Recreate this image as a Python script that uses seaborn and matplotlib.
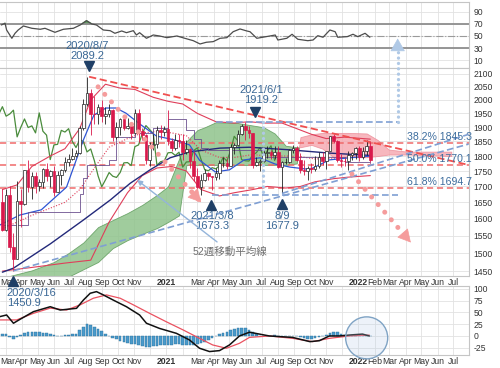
import numpy as np
import pandas as pd
import matplotlib
matplotlib.use('Agg')
import matplotlib.pyplot as plt
import matplotlib.dates as mdates
from matplotlib.patches import Ellipse
from matplotlib.ticker import NullLocator, NullFormatter
import seaborn as sns

sns.set_theme(style='white')
plt.rcParams['font.family'] = ['Liberation Sans', 'Noto Sans CJK JP', 'DejaVu Sans']

# ---------------- weekly candles (gold) ----------------
week_start = '2020-02-24'
opens = [1650, 1566, 1673, 1516, 1484, 1654, 1646, 1752, 1698, 1735, 1700, 1714, 1756, 1735, 1751, 1683, 1737, 1753, 1780, 1790,
         1801, 1810, 1897, 1986, 2028, 1949, 1947, 1975, 1940, 1948, 1962, 1866, 1900, 1930, 1899, 1905, 1880, 1952, 1886, 1872,
         1788, 1838, 1840, 1889, 1883, 1895, 1850, 1829, 1856, 1850, 1814, 1824, 1784, 1734, 1699, 1721, 1745, 1733, 1729, 1745,
         1777, 1778, 1768, 1832, 1838, 1877, 1906, 1892, 1878, 1769, 1781, 1784, 1811, 1812, 1802, 1813, 1763, 1780, 1781, 1819,
         1828, 1788, 1754, 1751, 1761, 1757, 1768, 1796, 1783, 1818, 1868, 1852, 1788, 1784, 1783, 1804, 1811, 1829, 1797, 1818,
         1835]
highs = [1691, 1692, 1703, 1558, 1716, 1693, 1753, 1788, 1747, 1747, 1725, 1760, 1775, 1752, 1765, 1749, 1757, 1796, 1807, 1826,
         1820, 1904, 2005, 2089.2, 2040, 2015, 1986, 2000, 1975, 1985, 1965, 1920, 1933, 1937, 1933, 1916, 1966, 1965, 1899, 1875,
         1847, 1875, 1905, 1907, 1904, 1962, 1863, 1877, 1875, 1875, 1855, 1826, 1816, 1760, 1740, 1756, 1748, 1735, 1759, 1785,
         1798, 1790, 1842, 1846, 1890, 1913, 1919.2, 1903, 1880, 1796, 1791, 1818, 1834, 1822, 1835, 1834, 1782, 1795, 1823, 1836,
         1834, 1809, 1788, 1765, 1775, 1800, 1814, 1815, 1818, 1870, 1877, 1854, 1807, 1795, 1816, 1815, 1831, 1833, 1830, 1854,
         1853]
lows = [1563, 1563, 1504, 1450.9, 1484, 1576, 1643, 1681, 1659, 1680, 1687, 1694, 1718, 1698, 1671, 1681, 1704, 1748, 1766, 1785,
        1797, 1807, 1890, 1976, 1874, 1911, 1911, 1918, 1913, 1936, 1851, 1860, 1873, 1890, 1894, 1860, 1876, 1848, 1855, 1774,
        1767, 1820, 1827, 1859, 1870, 1836, 1817, 1820, 1832, 1785, 1808, 1760, 1717, 1687, 1673.3, 1718, 1721, 1690, 1721, 1723,
        1763, 1756, 1768, 1808, 1838, 1872, 1855, 1862, 1761, 1765, 1751, 1780, 1794, 1790, 1790, 1759, 1677.9, 1772, 1778, 1809,
        1782, 1745, 1738, 1721, 1745, 1750, 1760, 1770, 1758, 1817, 1845, 1780, 1762, 1767, 1753, 1785, 1790, 1782, 1790, 1805,
        1780]
closes = [1566, 1673, 1516, 1484, 1654, 1646, 1752, 1698, 1735, 1700, 1714, 1756, 1735, 1751, 1683, 1737, 1753, 1780, 1790, 1801,
          1810, 1897, 1986, 2028, 1949, 1947, 1975, 1940, 1948, 1962, 1866, 1900, 1930, 1899, 1905, 1880, 1952, 1886, 1872, 1788,
          1838, 1840, 1889, 1883, 1895, 1850, 1829, 1856, 1850, 1814, 1824, 1784, 1734, 1699, 1721, 1745, 1733, 1729, 1745, 1777,
          1778, 1768, 1832, 1838, 1877, 1906, 1892, 1878, 1769, 1781, 1784, 1811, 1812, 1802, 1813, 1763, 1780, 1781, 1819, 1828,
          1788, 1754, 1751, 1761, 1757, 1768, 1796, 1783, 1818, 1868, 1852, 1788, 1784, 1783, 1804, 1811, 1829, 1797, 1818, 1835,
          1785]

# ---------------- ichimoku cloud (leading spans) ----------------
cloud_dates = ['2020-02-19', '2020-04-20', '2020-06-01', '2020-06-29', '2020-07-27', '2020-08-24', '2020-09-21', '2020-10-19',
               '2020-11-16', '2020-12-14', '2021-01-04', '2021-01-25', '2021-02-08', '2021-03-01', '2021-03-15', '2021-04-05',
               '2021-05-17', '2021-07-05', '2021-07-26', '2021-08-16', '2021-09-06', '2021-09-13', '2021-10-04', '2021-10-25',
               '2021-11-15', '2021-12-13', '2022-01-17', '2022-02-07', '2022-02-28', '2022-04-04', '2022-05-09', '2022-06-27']
span_a = [1430, 1452, 1475, 1500, 1530, 1575, 1596, 1617, 1642, 1673, 1700, 1790, 1850, 1890, 1900, 1918, 1915, 1900, 1878, 1835,
          1830, 1830, 1838, 1825, 1796, 1796, 1796, 1800, 1805, 1805, 1803, 1800]
span_b = [1400, 1420, 1425, 1435, 1455, 1475, 1514, 1537, 1555, 1572, 1590, 1610, 1770, 1770, 1770, 1770, 1770, 1770, 1770, 1770,
          1775, 1865, 1875, 1880, 1880, 1880, 1878, 1855, 1822, 1815, 1815, 1815]

# ---------------- other price-panel lines ----------------
ma52_dates = ['2020-02-24', '2020-03-16', '2020-05-25', '2020-07-27', '2020-09-16', '2020-10-24', '2020-12-01', '2021-01-08',
              '2021-02-14', '2021-04-13', '2021-06-08', '2021-08-24', '2021-11-07', '2022-01-24']
ma52_vals = [1447, 1458, 1526, 1596, 1657, 1710, 1754, 1794, 1814, 1827, 1830, 1821, 1810, 1802]

blue_dates = ['2020-02-19', '2020-03-28', '2020-05-08', '2020-06-25', '2020-07-27', '2020-08-16', '2020-09-08', '2020-09-27',
              '2020-10-16', '2020-11-14', '2020-12-13', '2021-01-17', '2021-02-14', '2021-03-05', '2021-04-04', '2021-05-01',
              '2021-05-29', '2021-06-28', '2021-07-27', '2021-08-24', '2021-10-01', '2021-11-07', '2021-12-15', '2022-01-24']
blue_vals = [1581, 1611, 1627, 1698, 1855, 1944, 1970, 1970, 1951, 1908, 1869, 1855, 1838, 1786, 1747, 1754, 1787, 1794, 1773,
             1763, 1755, 1787, 1794, 1800]

kijun_dates = ['2020-02-24', '2020-04-13', '2020-07-20', '2020-07-27', '2020-08-03', '2020-09-14', '2020-09-28', '2020-11-02',
               '2020-12-07', '2021-01-04', '2021-02-08', '2021-02-22', '2021-03-08', '2021-03-22', '2021-07-05', '2021-12-06',
               '2022-01-24']
kijun_vals = [1580, 1620, 1677, 1728, 1770, 1786, 1866, 1880, 1896, 1928, 1891, 1858, 1829, 1820, 1796, 1779, 1778]

bbu_dates = ['2020-02-24', '2020-03-23', '2020-04-20', '2020-05-25', '2020-06-22', '2020-07-20', '2020-08-10', '2020-09-07',
             '2020-10-05', '2020-11-02', '2020-12-07', '2021-01-04', '2021-02-01', '2021-03-01', '2021-04-05', '2021-05-10',
             '2021-06-07', '2021-07-05', '2021-08-09', '2021-09-06', '2021-10-04', '2021-11-01', '2021-12-06', '2022-01-24']
bbu_vals = [1690, 1705, 1765, 1800, 1825, 1895, 2000, 2060, 2045, 2040, 2010, 1995, 1985, 1950, 1920, 1915, 1920, 1915, 1915,
            1895, 1875, 1860, 1865, 1858]

bbl_dates = ['2020-02-24', '2020-04-20', '2020-06-22', '2020-08-10', '2020-09-14', '2020-10-19', '2020-11-16', '2020-12-14',
             '2021-01-11', '2021-02-08', '2021-03-08', '2021-04-12', '2021-05-10', '2021-06-14', '2021-07-12', '2021-08-16',
             '2021-09-13', '2021-10-11', '2021-11-15', '2021-12-13', '2022-01-24']
bbl_vals = [1450, 1460, 1472, 1480, 1590, 1680, 1735, 1760, 1765, 1750, 1690, 1670, 1680, 1690, 1700, 1695, 1700, 1715, 1725,
            1730, 1735]

bbm_dates = ['2020-02-24', '2020-04-20', '2020-06-22', '2020-07-20', '2020-08-17', '2020-09-14', '2020-10-19', '2020-11-16',
             '2020-12-14', '2021-01-11', '2021-02-08', '2021-03-08', '2021-04-12', '2021-05-10', '2021-06-14', '2021-07-12',
             '2021-08-16', '2021-09-13', '2021-10-11', '2021-11-15', '2021-12-13', '2022-01-24']
bbm_vals = [1570, 1610, 1650, 1690, 1760, 1830, 1860, 1880, 1885, 1880, 1870, 1820, 1795, 1795, 1805, 1800, 1800, 1798, 1790,
            1793, 1795, 1798]

# key levels
peak_price = 2089.2
low_price = 1450.9
fib_levels = [1845.3, 1770.1, 1694.7]
fib_labels = ['38.2% 1845.3', '50.0% 1770.1', '61.8% 1694.7']
high_2106 = 1919.2
low_2103 = 1673.3
low_2108 = 1677.9

# ---------------- RSI ----------------
rsi_dates = ['2020-02-22', '2020-02-29', '2020-03-03', '2020-03-13', '2020-03-19', '2020-03-25', '2020-04-04', '2020-04-20',
             '2020-05-06', '2020-05-15', '2020-06-03', '2020-06-19', '2020-07-08', '2020-07-21', '2020-08-02', '2020-08-12',
             '2020-08-21', '2020-09-03', '2020-09-16', '2020-09-25', '2020-10-08', '2020-10-17', '2020-10-30', '2020-11-05',
             '2020-11-11', '2020-11-24', '2020-12-07', '2020-12-19', '2021-01-02', '2021-01-21', '2021-02-05', '2021-02-21',
             '2021-03-06', '2021-03-18', '2021-03-31', '2021-04-13', '2021-04-26', '2021-05-08', '2021-05-21', '2021-06-03',
             '2021-06-09', '2021-06-22', '2021-07-17', '2021-07-27', '2021-08-01', '2021-08-18', '2021-08-28', '2021-09-08',
             '2021-09-27', '2021-10-07', '2021-10-16', '2021-10-26', '2021-11-08', '2021-11-18', '2021-11-23', '2021-12-11',
             '2021-12-22', '2021-12-31', '2022-01-14', '2022-01-23']
rsi_vals = [68, 70.8, 59.8, 46.2, 54.4, 59.8, 66.4, 62.6, 61, 62.6, 56, 61, 62.6, 68, 75, 69.7, 68, 59.8, 58.7, 54.4,
            58.2, 55.4, 58.7, 51.6, 55.4, 46.2, 51.6, 50, 47.2, 50, 46.2, 42.3, 36.9, 39.7, 40.7, 46.2, 47.2, 57, 61.5, 58.2,
            57, 46.2, 50, 51.6, 43.4, 46.2, 52.8, 44.6, 42.3, 43.4, 50.5, 47.9, 59.8, 57, 47.9, 48.9, 52.8, 48.9, 54.4, 47.9]

# ---------------- MACD ----------------
macd_dates = ['2020-02-19', '2020-03-03', '2020-03-16', '2020-03-28', '2020-04-23', '2020-05-25', '2020-06-13', '2020-07-14',
              '2020-07-27', '2020-08-09', '2020-08-21', '2020-09-03', '2020-09-22', '2020-10-17', '2020-11-11', '2020-11-24',
              '2020-12-19', '2021-01-20', '2021-02-14', '2021-03-05', '2021-03-24', '2021-04-12', '2021-05-01', '2021-05-20',
              '2021-06-08', '2021-07-16', '2021-08-29', '2021-10-01', '2021-10-19', '2021-11-07', '2021-11-26', '2021-12-15',
              '2022-01-09', '2022-01-22']
macd_vals = [41, 44.5, 27, 35, 51.5, 62, 55, 58.6, 76, 90.5, 94, 87, 76, 62, 44.5, 27, 16, 5.6, -8.5, -26,
             -33, -31, -19, 0, 8, 0, -3, -12, -10, 0, 0, 2, 4, 0]
signal_dates = ['2020-02-19', '2020-03-22', '2020-04-23', '2020-05-25', '2020-06-25', '2020-07-21', '2020-08-15', '2020-09-09',
                '2020-10-05', '2020-10-30', '2020-11-30', '2021-01-01', '2021-02-02', '2021-03-05', '2021-03-30', '2021-04-25',
                '2021-05-20', '2021-06-08', '2021-07-16', '2021-08-29', '2021-10-06', '2021-11-07', '2021-12-15', '2022-01-22']
signal_vals = [34, 34, 48, 59, 55, 66, 80, 87, 80, 66, 48, 30, 12.7, -5, -19, -26, -15.5, -3, 0, -5, -12, -5, 0, 2]
hist_vals = [5, 4, -2, -7, -3, 3, 6, 8, 9, 9, 8, 7, 6, 5, 3, 1, 0, 2, 3, 4,
             5, 12, 20, 26, 24, 18, 14, 10, 5, 1, -4, -7, -10, -12, -14, -16, -18, -20, -22, -24,
             -24, -22, -21, -20, -20, -19, -19, -18, -18, -19, -20, -20, -19, -17, -14, -12, -8, -4, 0, 4,
             6, 9, 12, 15, 17, 17, 16, 13, 9, 4, 1, 0, 1, 1, 2, 1, 0, 0, 1, 1,
             -1, -3, -5, -6, -6, -5, -3, -1, 3, 7, 9, 8, 5, 3, 1, 0, 1, 2, 2, 1, -1]

# ---------------- axis labels ----------------
month_labels = ['Mar', 'Apr', 'May', 'Jun', 'Jul', 'Aug', 'Sep', 'Oct', 'Nov', '',
                '2021', '', 'Mar', 'Apr', 'May', 'Jun', 'Jul', 'Aug', 'Sep', 'Oct', 'Nov', '',
                '2022', 'Feb', 'Mar', 'Apr', 'May', 'Jun', 'Jul']
price_ticks = [1450, 1500, 1550, 1600, 1650, 1700, 1750, 1800, 1850, 1900, 1950, 2000, 2050, 2100]
rsi_ticks = [10, 30, 50, 70, 90]
macd_ticks = [-25, 0, 25, 50, 75, 100]


def dn(seq):
    return mdates.date2num(pd.to_datetime(seq))


def d1(s):
    return float(mdates.date2num(pd.Timestamp(s)))


RED = '#d9194b'
GRID = '#e2e2e2'
TXT = '#3a6896'
TICK_FS = 6.2

fig = plt.figure(figsize=(5, 3.68), dpi=100)
ax_r = fig.add_axes([0, 300 / 368, 469 / 500, 66 / 368])
ax = fig.add_axes([0, 92 / 368, 469 / 500, 208 / 368])
ax_m = fig.add_axes([0, 13 / 368, 469 / 500, 69 / 368])
ax_r.set_zorder(1)
ax_m.set_zorder(2)
ax.set_zorder(3)

xlim = (d1('2020-02-19 10:00'), d1('2022-07-30 16:00'))
tick_x = dn(pd.date_range('2020-03-01', '2022-07-01', freq='MS'))

for a in (ax_r, ax, ax_m):
    a.set_xlim(*xlim)
    a.set_xticks(tick_x)
    a.grid(True, color=GRID, lw=0.6)
    a.set_axisbelow(True)
    a.yaxis.tick_right()
    a.tick_params(length=0, labelsize=TICK_FS, labelcolor='#333333', pad=1.5)
    a.tick_params(axis='y', pad=3)
    for s in a.spines.values():
        s.set_color('#c5c5c5')
        s.set_linewidth(0.8)
    a.spines['left'].set_visible(False)

ax_r.set_xticklabels([])
for a in (ax, ax_m):
    a.set_xticklabels([''] + month_labels[1:])
    for lab in a.get_xticklabels():
        if lab.get_text().startswith('20'):
            lab.set_fontweight('bold')
    # first month label sits at the very left edge
    a.annotate(month_labels[0], xy=(0, 0), xycoords='axes fraction', xytext=(0.3, -1.6),
               textcoords='offset points', ha='left', va='top', fontsize=TICK_FS, color='#333333',
               annotation_clip=False)

# ---------------- RSI panel ----------------
rx = dn(rsi_dates)
rv = np.array(rsi_vals, dtype=float)
sns.lineplot(x=rx, y=rv, ax=ax_r, color='#4d4d4d', lw=0.9, zorder=3)
ax_r.fill_between(rx, rv, 70, where=rv > 70, interpolate=True, color='#5e9e5e', zorder=2)
ax_r.axhline(70, color='#8e8e8e', lw=1.3, zorder=2)
ax_r.axhline(30, color='#8e8e8e', lw=1.3, zorder=2)
ax_r.axhline(50, color='#9a9a9a', lw=0.8, ls='-.', zorder=2)
ax_r.set_ylim(-2.5, 105.7)
ax_r.set_yticks(rsi_ticks)
ax_r.set_yticklabels([str(t) for t in rsi_ticks])

# ---------------- price panel ----------------
ax.set_yscale('log')
ax.set_ylim(1436.7, 2123.8)
ax.set_yticks(price_ticks)
ax.set_yticklabels([str(t) for t in price_ticks])
ax.yaxis.set_minor_locator(NullLocator())
ax.yaxis.set_minor_formatter(NullFormatter())

cx = dn(cloud_dates)
sa = np.array(span_a, dtype=float)
sb = np.array(span_b, dtype=float)
ax.fill_between(cx, sa, sb, where=sa >= sb, interpolate=True, color='#8fc38c', alpha=0.85, lw=0.6,
                edgecolor='#5f9c5c', zorder=1)
ax.fill_between(cx, sa, sb, where=sa < sb, interpolate=True, color='#f5a5ae', alpha=0.8, lw=0.6,
                edgecolor='#ec8a96', zorder=1)

for lv in fib_levels:
    ax.axhline(lv, color='#f06a6a', lw=1.1, ls=(0, (4, 2.5)), zorder=2)

wx = dn(pd.date_range(week_start, periods=len(closes), freq='7D'))
o = np.array(opens, dtype=float)
h = np.array(highs, dtype=float)
l = np.array(lows, dtype=float)
c = np.array(closes, dtype=float)

# chikou span (closes plotted 26 weeks back)
sns.lineplot(x=wx - 182, y=c, ax=ax, color='#4a8c3c', lw=0.9, zorder=2)
sns.lineplot(x=dn(bbu_dates), y=bbu_vals, ax=ax, color='#df3e5a', lw=0.8, zorder=2)
sns.lineplot(x=dn(bbl_dates), y=bbl_vals, ax=ax, color='#df3e5a', lw=0.8, zorder=2)
ax.plot(dn(bbm_dates), bbm_vals, color='#df3e5a', lw=0.8, ls=(0, (1, 1.5)), zorder=2)
sns.lineplot(x=dn(ma52_dates), y=ma52_vals, ax=ax, color='#23297a', lw=1.0, zorder=2)
sns.lineplot(x=dn(blue_dates), y=blue_vals, ax=ax, color='#2f55d4', lw=0.9, zorder=2)
ax.step(dn(kijun_dates), kijun_vals, where='post', color='#6a4f8e', lw=0.7, alpha=0.85, zorder=2)

# candles
up = c >= o
ax.vlines(wx[up], l[up], h[up], colors='#222222', lw=0.6, zorder=3)
ax.vlines(wx[~up], l[~up], h[~up], colors=RED, lw=0.6, zorder=3)
ax.bar(wx[up], (c - o)[up], bottom=o[up], width=5, color='white', edgecolor='#222222', lw=0.5, zorder=4)
ax.bar(wx[~up], (o - c)[~up], bottom=c[~up], width=5, color=RED, edgecolor=RED, lw=0.5, zorder=4)

# trend lines
ax.plot(dn(['2020-08-07', '2022-07-30']), [peak_price, 1770], color='#f05050', lw=1.3, ls=(0, (4, 2)), zorder=5)
ax.plot(dn(['2020-03-16', '2022-07-30']), [low_price, 1841], color='#7f9fd3', lw=1.2, ls=(0, (4, 2)), zorder=5)
ax.plot(dn(['2021-08-09', '2022-07-30']), [low_2108, 1875], color='#7f9fd3', lw=1.2, ls=(0, (4, 2)), zorder=5)
ax.plot(dn(['2021-04-05', '2022-03-17']), [high_2106, high_2106], color='#7f9fd3', lw=1.2, ls=(0, (4, 2)), zorder=5)
ax.plot(dn(['2021-03-29', '2022-03-17']), [low_2103, low_2103], color='#7f9fd3', lw=1.2, ls=(0, (4, 2)), zorder=5)


def dotted_arrow(d0, p0, d1_, p1, color, lw, gap, head=True):
    x0, x1 = d1(d0), d1(d1_)
    ax.plot([x0, x1], [p0, p1], color=color, lw=lw, ls=(0, (0.01, gap)), dash_capstyle='round',
            zorder=6, clip_on=False)
    if head:
        t = 0.92
        xh = x0 + t * (x1 - x0)
        ph = p0 * (p1 / p0) ** t
        ax.annotate('', xy=(x1, p1), xytext=(xh, ph),
                    arrowprops=dict(arrowstyle='-|>,head_width=0.38,head_length=0.7', color=color, lw=0.5,
                                    shrinkA=0, shrinkB=0), zorder=6, annotation_clip=False)


PINK = '#f59c9c'
dotted_arrow('2020-08-24', 2050, '2021-03-08', 1650, PINK, 3.6, 2.0)
dotted_arrow('2021-12-20', 1740, '2022-04-11', 1530, PINK, 3.6, 2.0)
LB = '#b0c9e6'
dotted_arrow('2021-07-04', high_2106, '2021-07-04', low_2103, LB, 2.4, 1.6, head=False)
dotted_arrow('2022-03-17', high_2106, '2022-03-17', 2195, LB, 2.4, 1.6, head=False)
ax.annotate('', xy=(d1('2022-03-17'), 2245), xytext=(d1('2022-03-17'), 2200),
            arrowprops=dict(arrowstyle='-|>,head_width=0.4,head_length=0.7', color=LB, lw=0.5,
                            shrinkA=0, shrinkB=0), zorder=6, annotation_clip=False)

# annotations
NAVY = '#1f3f66'
ax.plot([d1('2020-08-06')], [2132], marker='v', ms=7, color=NAVY, clip_on=False, zorder=7)
ax.text(d1('2020-08-04'), 2193, '2020/8/7\n2089.2', ha='center', va='center', fontsize=8, color=TXT,
        linespacing=0.95, zorder=7)
ax.plot([d1('2021-06-18')], [1955], marker='v', ms=7, color=NAVY, clip_on=False, zorder=7)
ax.text(d1('2021-06-30'), 2019, '2021/6/1\n1919.2', ha='center', va='center', fontsize=8, color=TXT,
        linespacing=0.95, zorder=7)
ax.plot([d1('2021-03-26')], [1642], marker='^', ms=7, color=NAVY, clip_on=False, zorder=7)
ax.text(d1('2021-03-29'), 1593, '2021/3/8\n1673.3', ha='center', va='center', fontsize=8, color=TXT,
        linespacing=0.95, zorder=7)
ax.plot([d1('2021-08-09')], [1645], marker='^', ms=7, color=NAVY, clip_on=False, zorder=7)
ax.text(d1('2021-08-09'), 1593, '8/9\n1677.9', ha='center', va='center', fontsize=8, color=TXT,
        linespacing=0.95, zorder=7)
ax.plot([d1('2020-03-16')], [1423], marker='^', ms=7, color=NAVY, clip_on=False, zorder=7)
ax.text(d1('2020-03-03'), 1378, '2020/3/16\n1450.9', ha='left', va='center', fontsize=8, color=TXT,
        linespacing=0.95, zorder=7)

for lv, lab in zip(fib_levels, fib_labels):
    ax.text(d1('2022-04-04'), lv * 1.002, lab, ha='left', va='bottom', fontsize=7.6, color='#3d6d9e', zorder=7)

ax.annotate('52週移動平均線', xy=(d1('2020-11-06'), 1721), xytext=(d1('2021-02-20'), 1503),
            ha='left', va='center', fontsize=7.6, color='#6e6e6e',
            arrowprops=dict(arrowstyle='-|>,head_width=0.2,head_length=0.4', color='#94b4da', lw=1.0,
                            shrinkA=2, shrinkB=0), zorder=7)

# ---------------- MACD panel ----------------
ax_m.bar(wx, hist_vals, width=5, color='#4a9bcb', edgecolor='#2b6f9b', lw=0.3, zorder=2)
sns.lineplot(x=dn(signal_dates), y=signal_vals, ax=ax_m, color='#ea5260', lw=0.9, zorder=3)
sns.lineplot(x=dn(macd_dates), y=macd_vals, ax=ax_m, color='#111111', lw=1.1, zorder=4)
ax_m.set_ylim(-40.3, 105.9)
ax_m.set_yticks(macd_ticks)
ax_m.set_yticklabels([str(t) for t in macd_ticks])
ax_m.add_patch(Ellipse((d1('2022-01-17'), -4), width=80, height=89, facecolor=(0.72, 0.81, 0.91, 0.25),
                       edgecolor='#7fa3c4', lw=1.0, zorder=5, clip_on=False))

for a in (ax_r, ax, ax_m):
    a.set_xlabel('')
    a.set_ylabel('')

fig.savefig('out.png', dpi=100)
